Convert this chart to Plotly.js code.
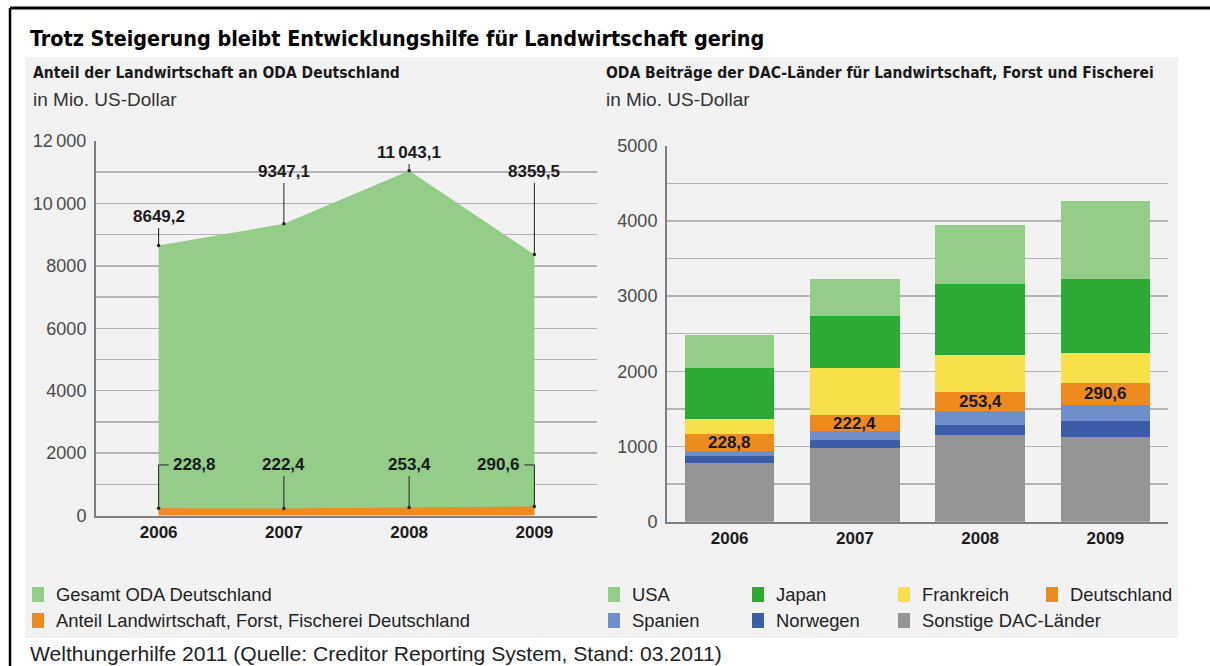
<!DOCTYPE html>
<html><head><meta charset="utf-8">
<script src="https://cdn.plot.ly/plotly-3.0.1.min.js"></script>
<style>html,body{margin:0;padding:0;background:#fff}#chart{width:1210px;height:666px}</style>
</head><body><div id="chart"></div>
<script>
// ---------- data ----------
const years = [2006, 2007, 2008, 2009];
const yearLabels = ['2006', '2007', '2008', '2009'];

// left chart: ODA Deutschland (Mio. US-Dollar)
const odaGesamt = [8649.2, 9347.1, 11043.1, 8359.5];
const odaLandwirtschaft = [228.8, 222.4, 253.4, 290.6];

// right chart: DAC contributions (Mio. US-Dollar), bottom to top
const dacSonstige = [778, 978, 1147, 1120];
const dacNorwegen = [89, 111, 138, 213];
const dacSpanien = [75, 111, 191, 223];
const dacDeutschland = [228.8, 222.4, 253.4, 290.6];
const dacFrankreich = [195, 623, 484, 398];
const dacJapan = [676, 688, 952, 986];
const dacUSA = [445, 489, 777, 1036];

const leftTickVals = [0, 1000, 2000, 3000, 4000, 5000, 6000, 7000, 8000, 9000, 10000, 11000, 12000];
const leftTickText = ['0', '', '2000', '', '4000', '', '6000', '', '8000', '', '10\u2009000', '', '12\u2009000'];
const rightTickVals = [0, 500, 1000, 1500, 2000, 2500, 3000, 3500, 4000, 4500, 5000];
const rightTickText = ['0', '', '1000', '', '2000', '', '3000', '', '4000', '', '5000'];

const titleText = 'Trotz Steigerung bleibt Entwicklungshilfe für Landwirtschaft gering';
const leftSubtitle = 'Anteil der Landwirtschaft an ODA Deutschland';
const rightSubtitle = 'ODA Beiträge der DAC-Länder für Landwirtschaft, Forst und Fischerei';
const unitText = 'in Mio. US-Dollar';
const sourceText = 'Welthungerhilfe 2011 (Quelle: Creditor Reporting System, Stand: 03.2011)';
const leftLegendNames = ['Gesamt ODA Deutschland', 'Anteil Landwirtschaft, Forst, Fischerei Deutschland'];
const rightLegendNames = ['USA', 'Japan', 'Frankreich', 'Deutschland', 'Spanien', 'Norwegen', 'Sonstige DAC-Länder'];

// ---------- styles ----------
const C = {
  lightGreen: '#93cd87', green: '#2bab34', yellow: '#f8e04b', orange: '#ee8a1e',
  lightBlue: '#6e8fca', blue: '#3a5ca9', gray: '#949494',
  grid: '#b4b4b4', axis: '#7f7f7f', panel: '#f2f2f2', text: '#1a1a1a', tick: '#4a4a4a'
};
const NARROW = '"Liberation Sans Narrow", "Arial Narrow", "DejaVu Sans Condensed", sans-serif';
const REG = '"Liberation Sans", Arial, Helvetica, sans-serif';
const W = 1210, H = 666;
const px = x => x / W;
const py = y => 1 - y / H;

function fmt(v) {
  const parts = v.toFixed(1).split('.');
  if (parts[0].length > 4) parts[0] = parts[0].slice(0, parts[0].length - 3) + '\u2009' + parts[0].slice(-3);
  return parts.join(',');
}

// ---------- traces ----------
const traces = [];
traces.push({
  type: 'scatter', mode: 'lines', x: years, y: odaGesamt, fill: 'tozeroy',
  fillcolor: C.lightGreen, line: {width: 0, color: C.lightGreen}, xaxis: 'x', yaxis: 'y',
  name: leftLegendNames[0], showlegend: false, hoverinfo: 'skip'
});
traces.push({
  type: 'scatter', mode: 'lines', x: years, y: odaLandwirtschaft, fill: 'tozeroy',
  fillcolor: C.orange, line: {width: 0, color: C.orange}, xaxis: 'x', yaxis: 'y',
  name: leftLegendNames[1], showlegend: false, hoverinfo: 'skip'
});
traces.push({
  type: 'scatter', mode: 'markers', x: years.concat(years), y: odaGesamt.concat(odaLandwirtschaft),
  marker: {size: 3.5, color: '#222'}, xaxis: 'x', yaxis: 'y', showlegend: false, hoverinfo: 'skip', cliponaxis: false
});

const stackSeries = [
  {name: 'Sonstige DAC-Länder', y: dacSonstige, color: C.gray},
  {name: 'Norwegen', y: dacNorwegen, color: C.blue},
  {name: 'Spanien', y: dacSpanien, color: C.lightBlue},
  {name: 'Deutschland', y: dacDeutschland, color: C.orange},
  {name: 'Frankreich', y: dacFrankreich, color: C.yellow},
  {name: 'Japan', y: dacJapan, color: C.green},
  {name: 'USA', y: dacUSA, color: C.lightGreen}
];
stackSeries.forEach(s => traces.push({
  type: 'bar', x: years, y: s.y, name: s.name, width: 0.714,
  marker: {color: s.color, line: {width: 0}}, xaxis: 'x2', yaxis: 'y2', showlegend: false, hoverinfo: 'skip'
}));

// ---------- annotations & shapes ----------
const annotations = [];
const shapes = [];

// outer frame + panel
shapes.push({type: 'rect', xref: 'paper', yref: 'paper', x0: px(25), x1: px(1178), y0: py(638), y1: py(57),
  fillcolor: C.panel, line: {width: 0}, layer: 'below'});
shapes.push({type: 'line', xref: 'paper', yref: 'paper', x0: px(10), x1: px(10), y0: py(8), y1: 0,
  line: {color: '#000', width: 2.5}, layer: 'above'});
shapes.push({type: 'line', xref: 'paper', yref: 'paper', x0: px(10), x1: 1, y0: py(8), y1: py(8),
  line: {color: '#000', width: 3}, layer: 'above'});

function txt(text, x, y, font, extra) {
  annotations.push(Object.assign({text: text, xref: 'paper', yref: 'paper', x: px(x), y: py(y),
    xanchor: 'left', yanchor: 'middle', showarrow: false, font: font}, extra || {}));
}
txt('<b>' + titleText + '</b>', 28, 38, {family: NARROW, size: 21.4, color: '#000'});
txt('<b>' + leftSubtitle + '</b>', 31, 73, {family: NARROW, size: 15.5, color: C.text});
txt(unitText, 31, 99, {family: REG, size: 19, color: '#333'});
txt('<b>' + rightSubtitle + '</b>', 604, 73, {family: NARROW, size: 15.5, color: C.text});
txt(unitText, 604, 99, {family: REG, size: 19, color: '#333'});
txt(sourceText, 28, 653, {family: REG, size: 21.1, color: '#222'});

// legends
function legendItem(name, color, x, y) {
  shapes.push({type: 'rect', xref: 'paper', yref: 'paper', x0: px(x), x1: px(x + 12), y0: py(y + 8), y1: py(y - 7),
    fillcolor: color, line: {width: 0}});
  txt(name, x + 22, y, {family: REG, size: 18.4, color: '#222'});
}
legendItem(leftLegendNames[0], C.lightGreen, 32, 594);
legendItem(leftLegendNames[1], C.orange, 32, 620);
const rightLegendColors = [C.lightGreen, C.green, C.yellow, C.orange, C.lightBlue, C.blue, C.gray];
const legendColX = [608, 752, 898, 1046];
rightLegendNames.forEach((n, i) => legendItem(n, rightLegendColors[i], legendColX[i % 4], i < 4 ? 594 : 620));

// left chart labels
const labelFont = {family: REG, size: 17, color: '#1a1a1a'};
const topLabelLevel = [9565, 11007, 11616, 11007];   // label centres (axis units)
const bottomLabelLevel = 1620;
years.forEach((yr, i) => {
  annotations.push({xref: 'x', yref: 'y', x: yr, y: odaGesamt[i], axref: 'x', ayref: 'y', ax: yr, ay: topLabelLevel[i],
    text: '<b>' + fmt(odaGesamt[i]) + '</b>', font: labelFont, showarrow: true, arrowhead: 0, arrowwidth: 1,
    arrowcolor: '#222', standoff: 0, startstandoff: 0});
  if (i === 1 || i === 2) {
    annotations.push({xref: 'x', yref: 'y', x: yr, y: odaLandwirtschaft[i], axref: 'x', ayref: 'y', ax: yr, ay: bottomLabelLevel,
      text: '<b>' + fmt(odaLandwirtschaft[i]) + '</b>', font: labelFont, showarrow: true, arrowhead: 0, arrowwidth: 1,
      arrowcolor: '#222', standoff: 0, startstandoff: 0});
  } else {
    const dir = i === 0 ? 1 : -1;
    shapes.push({type: 'line', xref: 'x', yref: 'y', x0: yr, x1: yr, y0: odaLandwirtschaft[i], y1: bottomLabelLevel,
      line: {color: '#222', width: 1}, layer: 'above'});
    shapes.push({type: 'line', xref: 'x', yref: 'y', x0: yr, x1: yr + dir * 0.08, y0: bottomLabelLevel, y1: bottomLabelLevel,
      line: {color: '#222', width: 1}, layer: 'above'});
    annotations.push({xref: 'x', yref: 'y', x: yr + dir * 0.1, y: bottomLabelLevel, xanchor: i === 0 ? 'left' : 'right',
      yanchor: 'middle', text: '<b>' + fmt(odaLandwirtschaft[i]) + '</b>', font: labelFont, showarrow: false});
  }
});

// right chart: Deutschland values in bar segment
years.forEach((yr, i) => {
  const base = dacSonstige[i] + dacNorwegen[i] + dacSpanien[i];
  annotations.push({xref: 'x2', yref: 'y2', x: yr, y: base + dacDeutschland[i] / 2, text: '<b>' + fmt(dacDeutschland[i]) + '</b>',
    font: labelFont, showarrow: false, xanchor: 'center', yanchor: 'middle'});
});

// ---------- layout ----------
const xCommon = {
  range: [2005.5, 2009.5], tickmode: 'array', tickvals: years, ticktext: yearLabels,
  showgrid: false, zeroline: false, showline: true, linecolor: C.axis, linewidth: 2, ticks: '', ticklen: 0,
  ticklabelstandoff: 0, tickfont: {family: REG, size: 17, color: '#1a1a1a', weight: 'bold'}, fixedrange: true
};
const yCommon = {
  tickmode: 'array', showgrid: true, gridcolor: C.grid, gridwidth: 1.5, zeroline: false, showline: true,
  linecolor: C.axis, linewidth: 2, ticks: '', ticklen: 0, ticklabelstandoff: 4,
  tickfont: {family: REG, size: 18, color: C.tick}, fixedrange: true
};
const layout = {
  width: W, height: H, margin: {l: 0, r: 0, t: 0, b: 0},
  paper_bgcolor: '#ffffff', plot_bgcolor: 'rgba(0,0,0,0)', showlegend: false, hovermode: false,
  barmode: 'stack', bargap: 0.29,
  xaxis: Object.assign({}, xCommon, {domain: [px(96), px(597)], anchor: 'y'}),
  yaxis: Object.assign({}, yCommon, {domain: [py(515.5), py(141)], range: [0, 12000], tickvals: leftTickVals, ticktext: leftTickText, anchor: 'x'}),
  xaxis2: Object.assign({}, xCommon, {domain: [px(667), px(1168)], anchor: 'y2'}),
  yaxis2: Object.assign({}, yCommon, {domain: [py(521.7), py(145.7)], range: [0, 5000], tickvals: rightTickVals, ticktext: rightTickText, anchor: 'x2'}),
  annotations: annotations, shapes: shapes
};
Plotly.newPlot('chart', traces, layout, {displayModeBar: false, staticPlot: true});
</script></body></html>
